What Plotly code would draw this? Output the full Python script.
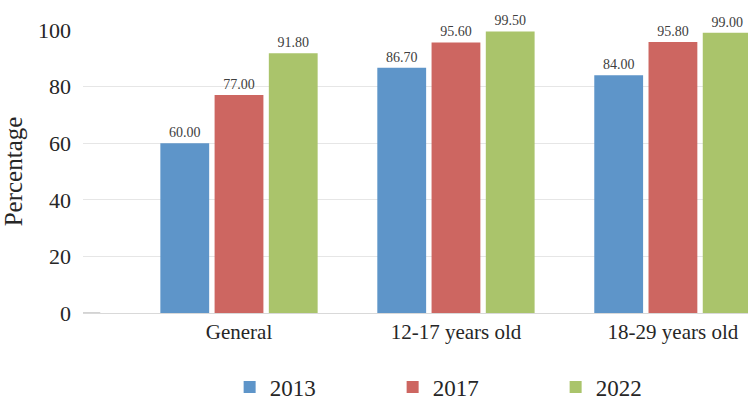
import plotly.graph_objects as go

categories = ["General", "12-17 years old", "18-29 years old"]
years = ["2013", "2017", "2022"]
values_2013 = [60.00, 86.70, 84.00]
values_2017 = [77.00, 95.60, 95.80]
values_2022 = [91.80, 99.50, 99.00]
colors = ["#5E95C9", "#CD6661", "#AAC46B"]

series = [values_2013, values_2017, values_2022]

FONT = "Liberation Serif, Times New Roman, serif"
TEXT = "#262626"

fig = go.Figure()
for name, vals, col in zip(years, series, colors):
    fig.add_trace(go.Bar(
        x=categories,
        y=vals,
        name=name,
        marker=dict(color=col, line=dict(width=0)),
        text=[f"{v:.2f}" for v in vals],
        textposition="outside",
        textfont=dict(family=FONT, size=14, color="#404040"),
        cliponaxis=False,
    ))

fig.update_layout(
    width=748,
    height=401,
    margin=dict(l=83, r=0, t=30, b=88),
    paper_bgcolor="white",
    plot_bgcolor="white",
    barmode="group",
    bargap=0.25,
    bargroupgap=0.1,
    font=dict(family=FONT, color=TEXT),
    showlegend=True,
    legend=dict(
        orientation="h",
        x=0.307,
        xanchor="left",
        xref="container",
        y=0.035,
        yanchor="middle",
        yref="container",
        font=dict(family=FONT, size=23, color=TEXT),
        entrywidth=118,
        itemwidth=30,
        traceorder="normal",
    ),
)

fig.update_xaxes(
    range=[-0.719, 2.346],
    showgrid=False,
    showline=True,
    linecolor="#D9D9D9",
    linewidth=1,
    ticks="",
    tickfont=dict(family=FONT, size=21, color=TEXT),
    fixedrange=True,
)

fig.update_yaxes(
    range=[0, 100],
    dtick=20,
    showgrid=True,
    gridcolor="#E6E6E6",
    gridwidth=1,
    zeroline=False,
    showline=False,
    ticks="",
    ticklabelstandoff=11,
    tickfont=dict(family=FONT, size=22, color=TEXT),
    title=dict(text="Percentage", font=dict(family=FONT, size=25, color=TEXT), standoff=10),
    fixedrange=True,
)

# short darker stub on the baseline at the left end of the axis
fig.add_shape(type="line", xref="paper", yref="y", x0=0, x1=0.026, y0=0, y1=0,
              line=dict(color="#A6A6A6", width=1))

fig.write_html("out.html")
